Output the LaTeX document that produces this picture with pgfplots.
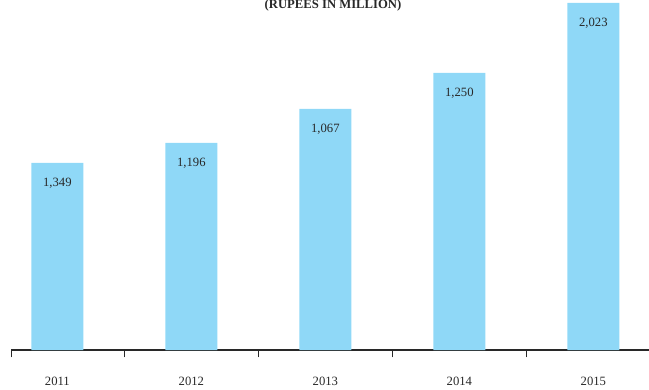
\documentclass[border=0pt]{standalone}
\usepackage{pgfplots}
\pgfplotsset{compat=1.18}
\usepackage{fontspec}
\setmainfont{Liberation Serif}
\definecolor{barblue}{RGB}{143,216,247}
\definecolor{txt}{RGB}{40,40,40}
\pgfplotstableread{
x h label
0 187 1,349
1 207 1,196
2 241 1,067
3 277 1,250
4 347 2,023
}\bars
\begin{document}
\begin{tikzpicture}[x=0.75pt,y=0.75pt]
\begin{axis}[
  at={(8.5,39)}, anchor=south west,
  scale only axis,
  width=478.5pt, height=262.5pt,
  xmin=-0.343, xmax=4.418,
  ymin=0, ymax=350,
  axis x line*=bottom,
  axis y line=none,
  x axis line style={txt, line width=1.1pt, -},
  xtick={0,1,2,3,4},
  xticklabels={2011,2012,2013,2014,2015},
  major tick length=0pt,
  xticklabel style={yshift=-17pt, font=\fontsize{9.5}{11}\selectfont, text=txt},
  extra x ticks={-0.343,0.5,1.5,2.5,3.5},
  extra x tick labels={},
  extra x tick style={tick align=outside, major tick length=5.5pt, tick style={txt, line width=0.8pt}},
  ybar, bar width=39pt,
  nodes near coords,
  point meta=explicit symbolic,
  every node near coord/.append style={anchor=north, yshift=-8pt, font=\fontsize{9.5}{11}\selectfont, text=txt},
  clip=false,
]
\addplot[fill=barblue, draw=none] table[x=x, y=h, meta=label] {\bars};
\end{axis}
\node[anchor=base, font=\bfseries\fontsize{9.5}{11}\selectfont, text=txt] at (333,380) {(RUPEES IN MILLION)};
\pgfresetboundingbox
\path (0,0) rectangle (649,389);
\end{tikzpicture}
\end{document}
